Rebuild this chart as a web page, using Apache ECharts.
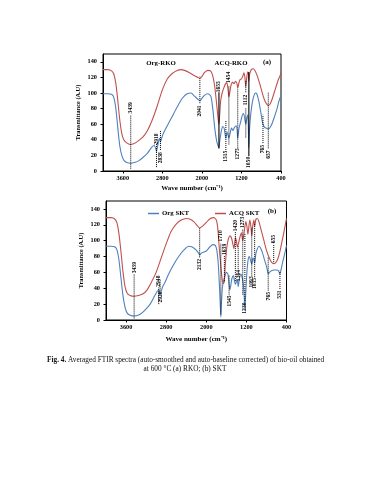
<!DOCTYPE html>
<html><head><meta charset="utf-8">
<script src="https://cdn.jsdelivr.net/npm/echarts@6/dist/echarts.min.js"></script>
<style>html,body{margin:0;padding:0;background:#fff}#c{width:371px;height:480px}</style>
</head><body><div id="c"></div>
<script>
// ---------- data ----------
const xTickValues = [3600, 2800, 2000, 1200, 400];
const yTickValues = [0, 20, 40, 60, 80, 100, 120, 140];

// (a) RKO
const rkoOrg = [[4000,99],[3900,99],[3820,98],[3780,94],[3740,80],[3700,55],[3660,32],[3620,20],[3580,14],[3520,11],[3439,10],[3360,11],[3280,13],[3200,17],[3100,23],[3020,30],[2970,33],[2940,30],[2918,25],[2895,32],[2870,40],[2855,42],[2838,37],[2815,42],[2780,48],[2700,58],[2600,70],[2500,82],[2400,93],[2300,99],[2220,100],[2150,96],[2080,92],[2041,90],[2000,93],[1950,97],[1880,99],[1820,96],[1780,80],[1740,55],[1700,38],[1670,32],[1655,30],[1640,38],[1610,50],[1580,57],[1550,55],[1515,42],[1490,50],[1470,46],[1454,42],[1430,48],[1400,55],[1370,52],[1340,56],[1300,58],[1275,42],[1250,55],[1220,62],[1190,70],[1160,74],[1140,70],[1112,60],[1090,68],[1070,72],[1050,30],[1035,55],[1010,74],[980,88],[950,96],[920,100],[890,99],[850,90],[810,76],[780,64],[765,60],[730,56],[700,55],[657,54],[600,58],[540,68],[480,80],[440,90],[400,97]];
const rkoAcq = [[4000,130],[3900,130],[3820,128],[3780,124],[3740,112],[3700,90],[3660,65],[3620,48],[3580,40],[3520,36],[3450,34],[3380,35],[3300,38],[3200,43],[3100,52],[3000,66],[2900,84],[2800,104],[2700,118],[2600,125],[2500,129],[2420,130],[2350,129],[2250,126],[2150,122],[2080,120],[2041,119],[2000,121],[1950,126],[1880,129],[1820,128],[1780,122],[1740,108],[1700,85],[1670,66],[1655,60],[1640,72],[1620,90],[1590,100],[1560,106],[1520,112],[1495,113],[1470,104],[1454,95],[1435,101],[1410,110],[1380,114],[1350,112],[1320,115],[1290,112],[1275,106],[1255,112],[1230,117],[1200,118],[1170,122],[1150,126],[1130,120],[1112,108],[1095,118],[1075,127],[1060,126],[1050,115],[1035,124],[1000,130],[960,131],[920,128],[880,122],[840,114],[800,105],[760,96],[720,89],[680,85],[657,84],[620,86],[580,92],[540,100],[500,108],[460,116],[420,122],[400,126]];

// (b) SKT
const sktOrg = [[4000,93],[3900,93],[3820,92],[3780,88],[3740,75],[3700,52],[3660,30],[3620,16],[3580,9],[3520,6],[3439,5],[3360,6],[3280,9],[3200,14],[3120,20],[3050,28],[2990,35],[2948,38],[2930,35],[2920,32],[2900,36],[2870,42],[2820,48],[2750,58],[2650,70],[2550,80],[2450,88],[2350,93],[2280,92],[2200,88],[2150,84],[2132,82],[2100,84],[2000,87],[1930,92],[1870,95],[1820,94],[1790,88],[1760,70],[1735,40],[1720,18],[1710,4],[1700,18],[1680,40],[1660,48],[1630,55],[1600,60],[1570,58],[1545,45],[1530,38],[1515,42],[1490,52],[1460,56],[1440,50],[1420,45],[1400,48],[1380,50],[1364,42],[1340,52],[1310,58],[1290,55],[1260,45],[1240,25],[1230,12],[1220,25],[1200,50],[1180,68],[1160,78],[1140,80],[1120,76],[1093,70],[1070,78],[1050,76],[1035,72],[1010,84],[980,90],[950,93],[920,91],[880,85],[840,76],[800,68],[780,62],[765,58],[740,60],[700,62],[650,63],[600,63],[560,62],[531,58],[510,63],[480,72],[450,80],[420,88],[400,94]];
const sktAcq = [[4000,129],[3900,129],[3820,127],[3780,122],[3740,108],[3700,85],[3660,60],[3620,42],[3580,34],[3520,31],[3439,30],[3350,31],[3260,33],[3180,38],[3100,47],[3000,60],[2900,78],[2800,96],[2700,112],[2600,121],[2500,126],[2400,128],[2320,127],[2250,124],[2180,119],[2132,116],[2080,118],[2000,123],[1920,128],[1850,129],[1800,126],[1770,115],[1740,90],[1710,68],[1680,50],[1660,46],[1639,50],[1620,70],[1590,92],[1560,102],[1530,106],[1500,104],[1470,96],[1450,90],[1430,98],[1420,104],[1400,100],[1380,92],[1360,96],[1330,104],[1300,110],[1273,100],[1250,108],[1230,118],[1210,124],[1190,118],[1170,108],[1150,118],[1130,126],[1110,118],[1093,106],[1075,118],[1050,126],[1035,118],[1010,127],[980,128],[950,124],[900,112],[850,100],[800,88],[750,79],[700,73],[655,71],[620,72],[580,76],[540,84],[500,96],[460,108],[430,118],[400,128]];

// peak annotations: [wavenumber, line from, line to, label centre (NaN = none), solid(1)/dotted(0)]
const peaksA = [[3439,3,71,81,0],[2918,5,35,41,0],[2838,27,52,17,0],[2041,87,121,77,0],[1655,29,101,108,1],[1515,27,64,19,0],[1454,34,109,120,0],[1275,30,105,22,0],[1112,43,81,91,0],[1112,101,116,NaN,0],[1050,19,127,11,1],[765,36,72,28,0],[657,29,101,21,0]];
const peaksB = [[3439,2,58,66,0],[2948,20,41,49,0],[2920,37,51,29,0],[2132,79,117,70,0],[1710,7,96,106,0],[1639,49,81,89,0],[1545,32,56,24,0],[1420,49,111,119,0],[1364,64,94,56,0],[1273,32,115,123,0],[1230,24,109,15,0],[1093,56,117,48,0],[1035,54,122,46,0],[765,37,79,30,0],[655,73,96,102,0],[531,39,62,32,0]];

const seriesNames = ['Org-RKO','ACQ-RKO','Org SKT','ACQ SKT'];
const caption1 = 'Averaged FTIR spectra (auto-smoothed and auto-baseline corrected) of bio-oil obtained';
const caption2 = 'at 600 \u00B0C (a) RKO; (b) SKT';

// ---------- chart ----------
const FONT = '"Liberation Serif","Times New Roman",serif';
const BLUE = '#4f81bd', RED = '#c0504d';
const chart = echarts.init(document.getElementById('c'), null, {renderer:'canvas'});

function xAxis(gi, gap){
  return {type:'value', gridIndex:gi, min:400, max:4000, inverse:true,
    name:'Wave number (cm\u207B\u00B9)', nameLocation:'middle', nameGap:gap,
    nameTextStyle:{fontFamily:FONT, fontWeight:'bold', fontSize:7, color:'#000'},
    axisLine:{lineStyle:{color:'#000', width:1}},
    axisTick:{show:true, length:2.5, customValues:xTickValues, lineStyle:{color:'#000'}},
    axisLabel:{customValues:xTickValues, formatter:v => String(v), fontFamily:FONT, fontWeight:'bold', fontSize:6.3, color:'#000', margin:4},
    splitLine:{show:false}};
}
function yAxis(gi){
  return {type:'value', gridIndex:gi, min:0, max:150,
    name:'Transmittance (A.U)', nameLocation:'middle', nameGap:22,
    nameTextStyle:{fontFamily:FONT, fontWeight:'bold', fontSize:6.3, color:'#000'},
    axisLine:{show:true, lineStyle:{color:'#000', width:1}},
    axisTick:{show:true, length:2.5, customValues:yTickValues, lineStyle:{color:'#000'}},
    axisLabel:{customValues:yTickValues, formatter:v => String(v), fontFamily:FONT, fontWeight:'bold', fontSize:6.3, color:'#000', margin:6},
    splitLine:{show:false}};
}
function lineSeries(name, data, color, gi){
  return {name, type:'line', xAxisIndex:gi, yAxisIndex:gi, data, symbol:'none', smooth:0.25,
    lineStyle:{color, width:1.1}, itemStyle:{color}, z:3};
}
function annoSeries(gi, peaks){
  return {type:'custom', xAxisIndex:gi, yAxisIndex:gi, silent:true, z:6, data:peaks,
    renderItem(params, api){
      const w = api.value(0), a = api.value(1), b = api.value(2), lc = api.value(3), solid = api.value(4) === 1;
      const p1 = api.coord([w,a]), p2 = api.coord([w,b]);
      const ch = [{type:'line', shape:{x1:p1[0], y1:p1[1], x2:p2[0], y2:p2[1]},
        style:{stroke:'#000', lineWidth: solid ? 1.1 : 1, lineDash: solid ? null : [1,1]}}];
      if (!isNaN(lc)) {
        const pl = api.coord([w, lc]);
        ch.push({type:'text', x:pl[0], y:pl[1], rotation:Math.PI/2,
          style:{text:String(w), font:'bold 5.6px ' + FONT, fill:'#000', align:'center', verticalAlign:'middle'}});
      }
      return {type:'group', children:ch};
    }};
}

const option = {
  backgroundColor:'#fff',
  animation:false,
  grid:[
    {left:103, top:54, width:178, height:117, show:true, borderColor:'#000', borderWidth:1},
    {left:106, top:201, width:180.5, height:119, show:true, borderColor:'#000', borderWidth:1}
  ],
  xAxis:[xAxis(0, 14), xAxis(1, 16)],
  yAxis:[yAxis(0), yAxis(1)],
  legend:{data:[seriesNames[2], seriesNames[3]], left:143, top:205, icon:'rect', itemWidth:11, itemHeight:1.5,
    itemGap:26, textStyle:{fontFamily:FONT, fontWeight:'bold', fontSize:6.8, color:'#000', padding:[0,0,0,-2]}},
  series:[
    lineSeries(seriesNames[0], rkoOrg, BLUE, 0),
    lineSeries(seriesNames[1], rkoAcq, RED, 0),
    lineSeries(seriesNames[2], sktOrg, BLUE, 1),
    lineSeries(seriesNames[3], sktAcq, RED, 1),
    annoSeries(0, peaksA),
    annoSeries(1, peaksB)
  ],
  graphic:[
    {type:'text', x:161, y:63, style:{text:seriesNames[0], font:'bold 6.8px ' + FONT, fill:'#000', align:'center', verticalAlign:'middle'}},
    {type:'text', x:231, y:63, style:{text:seriesNames[1], font:'bold 6.8px ' + FONT, fill:'#000', align:'center', verticalAlign:'middle'}},
    {type:'text', x:267, y:62, style:{text:'(a)', font:'bold 7px ' + FONT, fill:'#000', align:'center', verticalAlign:'middle'}},
    {type:'text', x:272, y:211, style:{text:'(b)', font:'bold 7px ' + FONT, fill:'#000', align:'center', verticalAlign:'middle'}},
    {type:'text', x:47, y:360, style:{text:'{b|Fig. 4.} ' + caption1, verticalAlign:'middle', fill:'#111',
      font:'7.3px ' + FONT, rich:{b:{fontFamily:FONT, fontWeight:'bold', fontSize:7.3, fill:'#111'}}}},
    {type:'text', x:185, y:369, style:{text:caption2, align:'center', verticalAlign:'middle', fill:'#111', font:'7.3px ' + FONT}}
  ]
};
chart.setOption(option);
</script>
</body></html>
